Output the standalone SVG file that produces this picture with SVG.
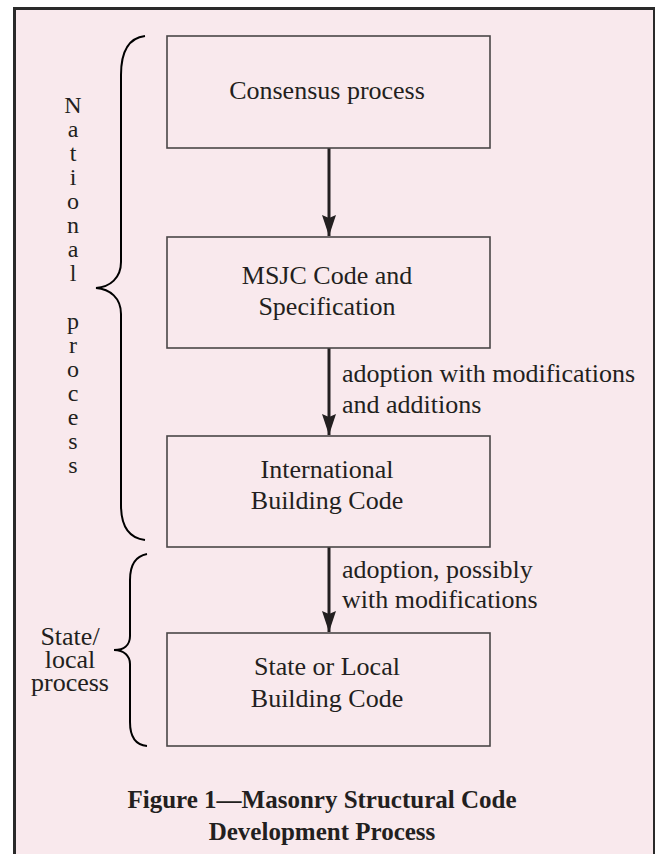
<svg xmlns="http://www.w3.org/2000/svg" width="655" height="854" viewBox="0 0 655 854">
<defs>
<style>
.t{font-family:"Liberation Serif","Times New Roman",serif;font-size:26px;fill:#231F20}
.c{text-anchor:middle}
.v{font-family:"Liberation Serif","Times New Roman",serif;font-size:24px;fill:#231F20;text-anchor:middle}
.cap{font-family:"Liberation Serif","Times New Roman",serif;font-size:25px;font-weight:bold;fill:#231F20;text-anchor:middle}
.box{fill:none;stroke:#4a4647;stroke-width:1.6}
.arr{stroke:#231F20;stroke-width:3;fill:none}
.brace{fill:none;stroke:#000;stroke-width:2}
</style>
<marker id="ah" markerUnits="userSpaceOnUse" markerWidth="22" markerHeight="14" refX="21" refY="7" orient="auto" viewBox="0 0 22 14">
<path d="M0,0 L3,7 L0,14 L21,7 Z" fill="#231F20"/>
</marker>
</defs>
<rect x="0" y="0" width="655" height="854" fill="#ffffff"/>
<rect x="14.5" y="8.5" width="640" height="860" fill="#F9E9ED" stroke="#2a2a2a" stroke-width="3"/>

<g id="braces">
<path class="brace" d="M145,36 C128,38 121,52 121,75 L121,262 C121,278 110,287 96,288 C110,289 121,298 121,314 L121,505 C121,525 128,538 145,540"/>
<path class="brace" d="M147,554 C136,556 130,565 130,580 L130,636 C130,645 124,650 114,650 C124,650 130,656 130,664 L130,722 C130,737 136,745 147,746"/>
</g>

<g id="label-national">
<text class="v" x="73" y="113">N</text>
<text class="v" x="73" y="137">a</text>
<text class="v" x="73" y="161">t</text>
<text class="v" x="73" y="185">i</text>
<text class="v" x="73" y="209">o</text>
<text class="v" x="73" y="233">n</text>
<text class="v" x="73" y="257">a</text>
<text class="v" x="73" y="281">l</text>
<text class="v" x="73" y="329">p</text>
<text class="v" x="73" y="353">r</text>
<text class="v" x="73" y="377">o</text>
<text class="v" x="73" y="401">c</text>
<text class="v" x="73" y="425">e</text>
<text class="v" x="73" y="449">s</text>
<text class="v" x="73" y="473">s</text>
</g>

<g id="label-state">
<text class="t c" x="70" y="645">State/</text>
<text class="t c" x="70" y="668">local</text>
<text class="t c" x="70" y="691">process</text>
</g>

<g id="connectors">
<line class="arr" x1="329" y1="148" x2="329" y2="236" marker-end="url(#ah)"/>
<line class="arr" x1="329" y1="348" x2="329" y2="435" marker-end="url(#ah)"/>
<line class="arr" x1="329" y1="547" x2="329" y2="632" marker-end="url(#ah)"/>
<text class="t" x="342" y="382">adoption with modifications</text>
<text class="t" x="342" y="413">and additions</text>
<text class="t" x="342" y="578">adoption, possibly</text>
<text class="t" x="342" y="608">with modifications</text>
</g>

<g id="node-consensus">
<rect class="box" x="167" y="36" width="323" height="112"/>
<text class="t c" x="327" y="99">Consensus process</text>
</g>
<g id="node-msjc">
<rect class="box" x="167" y="237" width="323" height="111"/>
<text class="t c" x="327" y="284">MSJC Code and</text>
<text class="t c" x="327" y="315">Specification</text>
</g>
<g id="node-ibc">
<rect class="box" x="167" y="436" width="323" height="111"/>
<text class="t c" x="327" y="478">International</text>
<text class="t c" x="327" y="509">Building Code</text>
</g>
<g id="node-state">
<rect class="box" x="167" y="633" width="323" height="113"/>
<text class="t c" x="327" y="675">State or Local</text>
<text class="t c" x="327" y="707">Building Code</text>
</g>

<g id="caption">
<text class="cap" x="322" y="808">Figure 1—Masonry Structural Code</text>
<text class="cap" x="322" y="840">Development Process</text>
</g>
</svg>
